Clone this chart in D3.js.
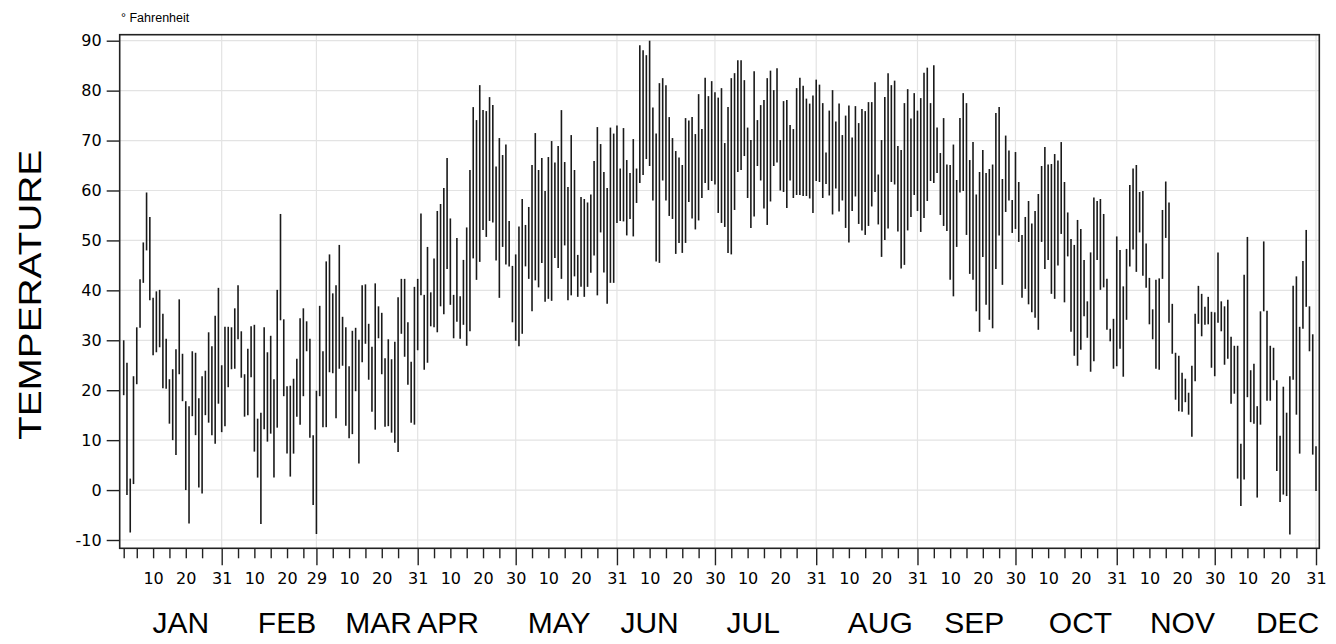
<!DOCTYPE html>
<html>
<head>
<meta charset="utf-8">
<script src="https://cdn.jsdelivr.net/npm/d3@7"></script>
<style>
  body { margin: 0; background: #fff; }
  text { fill: #000; }
</style>
</head>
<body>
<div id="chart"></div>
<script>
// daily high / low temperature (deg F), Jan 1 .. Dec 31 of a leap year
const highs = [
  30, 25.5, 2.3, 22.8, 32.6, 42.2, 49.6, 59.6, 54.7, 38.5, 39.8, 40.1, 35.3, 30.3, 22.2, 24.2, 28.2, 38.2, 27.3, 17.8, 16.8, 27.8, 27.5, 18.4, 22.8, 23.9, 31.6, 28.8, 34.9, 40.5, 25,
  32.7, 32.7, 32.6, 36.4, 41, 31.8, 23.2, 28.3, 32.8, 33.1, 14.3, 15.5, 32.6, 27.6, 30.9, 22.2, 40.1, 55.3, 34.2, 20.8, 20.9, 22.3, 26.3, 34.4, 36.4, 33.8, 30.3, 11, 19.9,
  36.9, 27.8, 45.8, 47.2, 39.4, 41, 49.1, 34.7, 32.6, 24.8, 31.9, 32.5, 30.1, 41, 41.2, 33.3, 28.7, 41.4, 36.8, 35.5, 26.4, 30.2, 26.2, 29.7, 38.6, 42.3, 42.3, 33.6, 25.7, 40.7, 42.3,
  55.4, 39.1, 48.7, 39.6, 46.4, 55.9, 57.3, 60.5, 66.5, 54.4, 39.1, 50.5, 38.8, 46.1, 52.6, 64.1, 76.7, 74.1, 81.1, 76.1, 75.9, 78.7, 77.1, 64.8, 70.5, 67.1, 69.2, 53.9, 44.9, 47.2,
  52.8, 58.3, 53.1, 56.7, 65.1, 71.5, 64.1, 66.5, 59.9, 66.7, 69.9, 65.6, 68.9, 76.1, 65.7, 60.7, 71.1, 64.1, 47.1, 58.7, 58.3, 57.6, 59.2, 65.9, 72.7, 69.3, 63.7, 60.5, 72.6, 71.4, 73,
  64.4, 72.5, 66.1, 63.5, 70.3, 64.4, 89.1, 88.1, 87.1, 90, 76.6, 71.4, 81.5, 82.5, 81.1, 74.7, 70.5, 67.9, 66.6, 65.1, 74.5, 74, 74.7, 71.3, 79.3, 72.3, 82.6, 78.9, 81.9, 79.7,
  78.6, 80.5, 69.5, 76.7, 82.5, 83.5, 86.1, 86.1, 82.1, 72.6, 70.1, 83.9, 74.1, 77.1, 78.1, 82.5, 84, 80.1, 84.5, 70.1, 77.9, 78.1, 73.1, 72.3, 80.5, 82.6, 81, 78.4, 77.4, 79, 82.2,
  81.2, 77.5, 67.6, 76, 80.1, 73.8, 77.4, 71.1, 75, 77, 70.6, 76.9, 73.5, 76.3, 75.9, 77.7, 77.7, 81.7, 63.2, 70.1, 78.7, 83.5, 81.1, 82, 68.9, 68.1, 77.5, 80.3, 74.4, 79.5, 76,
  78.5, 83.6, 84.6, 77.5, 85.1, 72.6, 67.5, 74.5, 65.2, 65.1, 69.2, 62.1, 74.5, 79.5, 77.5, 66.1, 69.7, 59.2, 63.7, 68.1, 63.5, 64.3, 65.2, 75.5, 76.7, 62.3, 71, 68, 58.1, 67.7,
  61.7, 51.1, 54.7, 57.9, 53.4, 55.9, 59.3, 64.9, 68.7, 65.2, 65.3, 67.3, 66, 69.7, 61.7, 55.6, 50.3, 49.1, 54.1, 52.3, 46.1, 37.8, 47.6, 58.6, 57.9, 58.3, 55.3, 42.3, 32.3, 34.3, 50.8,
  48.1, 40.8, 48.3, 61.1, 64.4, 65.1, 59.7, 59.9, 49.4, 42.5, 36.2, 42.1, 42.4, 56.1, 61.8, 57.6, 37.3, 27.5, 26.9, 23.5, 22.3, 19.5, 24.9, 35.3, 40.9, 39.3, 36.7, 38.7, 35.7, 35.6,
  47.6, 37.8, 36.8, 38.1, 30.7, 28.9, 28.9, 9.3, 43.1, 50.7, 24, 25.3, 16.8, 35.8, 49.8, 35.9, 28.9, 28.5, 22, 10.9, 20.7, 15.5, 22.8, 40.9, 42.8, 32.7, 45.9, 52.1, 36.8, 31.2, 8.8
];
const lows = [
  19, -1, -8.5, 1.2, 21.2, 32.5, 41.5, 48, 38, 27, 27.6, 28.6, 20.4, 20.3, 13.3, 10, 7, 23.2, 17.8, 0, -6.7, 14.8, 11, 0.5, -0.7, 15, 13.5, 11, 9.3, 17.3, 11.6,
  12.8, 20.6, 24.2, 24.3, 30.2, 22.5, 14.7, 15, 22.6, 7.7, 2.5, -6.8, 12.2, 9.7, 11.3, 2.5, 12.5, 34, 18.8, 7.3, 2.7, 7.3, 14.7, 13.1, 18.8, 27.8, 10.5, -3, -8.8,
  18.8, 12.6, 12.6, 23.6, 23.4, 14.4, 24.3, 24.9, 12.9, 10.4, 11.2, 19.8, 5.3, 25.6, 29.3, 22.1, 15.7, 12.1, 30.4, 23.2, 12.7, 12.8, 11.5, 9.5, 7.6, 31.3, 26.7, 21.1, 13.5, 13.1, 28,
  39, 24.1, 25.5, 32.8, 32.6, 31.6, 36.8, 35.2, 44.3, 37.1, 30.4, 33.7, 30.3, 33.1, 28.9, 31.8, 46.4, 42.1, 45.7, 52.1, 50.7, 53.9, 53.6, 46, 38.5, 48.7, 45.2, 44.8, 33.6, 29.9,
  28.8, 31.3, 44.8, 42.3, 35.8, 42, 40.6, 45.5, 37.7, 38.3, 37.9, 46.5, 44.5, 42.3, 49, 38, 39, 42.8, 38.7, 40.7, 38.7, 40.7, 43.5, 47, 39, 51.6, 43.6, 37.3, 41.5, 41.5, 53.5,
  53.9, 53.8, 51, 54.3, 50.8, 57.5, 61.5, 63.1, 66.3, 64.9, 58, 45.8, 45.5, 62, 58, 54.9, 54.3, 47.3, 49.5, 47.5, 49.5, 57.7, 54.4, 52.2, 54, 58.5, 61.5, 60.1, 61.9, 61.2,
  55.5, 53.5, 52.7, 47.5, 47.2, 56.1, 63.7, 64.1, 66.9, 58.5, 52.5, 54.8, 64.9, 62, 56.4, 53.1, 57.8, 64.9, 65.6, 60, 59.7, 56.5, 62, 58.5, 59.1, 59.1, 58.9, 58.9, 58.4, 55.5, 61.9,
  61.7, 58.5, 61.3, 59, 55.2, 60.4, 55.8, 58, 52.5, 49.6, 55.9, 58.8, 53.3, 52, 51.1, 52.9, 56.8, 59.7, 53.2, 46.7, 50.1, 52.4, 61.7, 61.2, 51.8, 44.4, 45.1, 52, 54.7, 59.1, 55.9,
  51.7, 54.5, 57.9, 61.9, 61.5, 63.5, 55.1, 52.9, 51.9, 42.1, 38.8, 48.7, 59.6, 59.9, 51.1, 43.3, 42.1, 35.8, 31.7, 46.7, 37.1, 34.1, 32.4, 44.3, 51, 41.1, 55.7, 58, 51.5, 52.3,
  49.7, 38.5, 40.3, 37.2, 35.6, 34.5, 32.1, 49.7, 44.3, 46.1, 39.3, 38.3, 45, 51.3, 37.6, 46.8, 31.7, 26.9, 24.9, 28.1, 34.8, 30.5, 23.7, 25.8, 46.1, 40.1, 40.6, 32.1, 29.8, 24.3, 24.8,
  28.3, 22.7, 34.1, 44.8, 48.2, 43.7, 51.6, 42.9, 40.5, 33.2, 30.2, 24.3, 24.1, 42.3, 50.5, 33.5, 27.3, 18.1, 15.8, 15.7, 17.6, 15.1, 10.7, 21.8, 33.3, 30.8, 33.1, 33.2, 24.5, 22.8,
  33.5, 31.8, 25.1, 26.3, 17.3, 19.3, 2.3, -3.2, 2.1, 18.6, 13.6, 13.3, -1.5, 13.1, 35.8, 17.9, 17.9, 22, 3.8, -2.4, -0.9, -1.2, -8.9, 22.1, 15.1, 7.3, 32.3, 36.7, 27.8, 7.1, -0.2
];
const yTicks = [-10, 0, 10, 20, 30, 40, 50, 60, 70, 80, 90];
const monthNames = ["JAN", "FEB", "MAR", "APR", "MAY", "JUN", "JUL", "AUG", "SEP", "OCT", "NOV", "DEC"];
const minorTickDays = [5, 10, 15, 20, 25];
const labelDays = [10, 20];
// where each month name sits, as a day of the year (they are not centred on the months)
const monthLabelAt = [17.5, 50, 78, 99.3, 133.3, 161, 192.7, 231.6, 260.4, 292.9, 324.1, 356.3];

const W = 1336, H = 644;
const plot = { left: 119.7, right: 1319.3, top: 34.7, bottom: 548.3 };

const year = 2024;
const start = new Date(Date.UTC(year, 0, 1));
const end = new Date(Date.UTC(year, 11, 31));
const days = d3.utcDays(start, new Date(Date.UTC(year + 1, 0, 1)));
const data = days.map((d, i) => ({ date: d, hi: highs[i], lo: lows[i] }));

const x = d3.scaleUtc().domain([start, end]).range([123.7, 1316]);
const y = d3.scaleLinear().domain([-10, 90]).range([540, 40.7]);

const monthEnds = d3.utcMonths(new Date(Date.UTC(year, 1, 1)), new Date(Date.UTC(year + 1, 0, 2)))
  .map((d) => d3.utcDay.offset(d, -1));
const months = d3.utcMonths(start, new Date(Date.UTC(year + 1, 0, 1)));
const minorTicks = [start].concat(
  months.flatMap((m) => minorTickDays.map((d) => new Date(Date.UTC(year, m.getUTCMonth(), d))))
);
const labelTicks = months
  .flatMap((m) => labelDays.map((d) => new Date(Date.UTC(year, m.getUTCMonth(), d))))
  .concat(monthEnds);

const svg = d3.select("#chart").append("svg")
  .attr("width", W)
  .attr("height", H)
  .style("font-family", "'Liberation Sans', Arial, sans-serif");

// grid
const grid = svg.append("g").attr("stroke", "#e3e3e3").attr("stroke-width", 1.2);
grid.selectAll("line.h")
  .data(yTicks)
  .join("line")
  .attr("class", "h")
  .attr("x1", plot.left).attr("x2", plot.right)
  .attr("y1", (d) => y(d)).attr("y2", (d) => y(d));
grid.selectAll("line.v")
  .data(monthEnds)
  .join("line")
  .attr("class", "v")
  .attr("x1", (d) => x(d)).attr("x2", (d) => x(d))
  .attr("y1", plot.top).attr("y2", plot.bottom);

// hi-lo bars
svg.append("g")
  .attr("stroke", "#1a1a1a")
  .attr("stroke-width", 1.6)
  .selectAll("line")
  .data(data)
  .join("line")
  .attr("x1", (d) => x(d.date)).attr("x2", (d) => x(d.date))
  .attr("y1", (d) => y(d.lo)).attr("y2", (d) => y(d.hi));

// frame
svg.append("rect")
  .attr("x", plot.left).attr("y", plot.top)
  .attr("width", plot.right - plot.left).attr("height", plot.bottom - plot.top)
  .attr("fill", "none").attr("stroke", "#222").attr("stroke-width", 1.6);

// y axis
const yAxis = svg.append("g")
  .attr("transform", `translate(${plot.left},0)`)
  .call(d3.axisLeft(y).tickValues(yTicks).tickSize(13).tickPadding(5).tickFormat((d) => d < 0 ? "-" + Math.abs(d) : d));
yAxis.select(".domain").remove();
yAxis.selectAll(".tick line").attr("stroke", "#222").attr("stroke-width", 1.4);
yAxis.selectAll("text")
  .style("font-family", "'DejaVu Sans', sans-serif")
  .style("font-size", "16px")
  .attr("fill", "#000");

// x axis ticks
const xMinor = svg.append("g")
  .attr("transform", `translate(0,${plot.bottom})`)
  .call(d3.axisBottom(x).tickValues(minorTicks).tickSize(10).tickFormat(""));
const xMajor = svg.append("g")
  .attr("transform", `translate(0,${plot.bottom})`)
  .call(d3.axisBottom(x).tickValues(monthEnds).tickSize(17).tickFormat(""));
const xLabels = svg.append("g")
  .attr("transform", `translate(0,${plot.bottom})`)
  .call(d3.axisBottom(x).tickValues(labelTicks).tickSize(0).tickPadding(24).tickFormat(d3.utcFormat("%-d")));
[xMinor, xMajor, xLabels].forEach((g) => g.select(".domain").remove());
svg.selectAll(".tick line").attr("stroke", "#222").attr("stroke-width", 1.4);
xLabels.selectAll("text")
  .style("font-family", "'DejaVu Sans', sans-serif")
  .style("font-size", "16px")
  .attr("fill", "#000");

// month names
const dayX = d3.scaleLinear().domain([0, 365]).range(x.range());
svg.append("g")
  .selectAll("text")
  .data(monthNames)
  .join("text")
  .attr("x", (d, i) => dayX(monthLabelAt[i]))
  .attr("y", 633)
  .attr("text-anchor", "middle")
  .style("font-size", "30px")
  .text((d) => d);

// axis title and unit
svg.append("text")
  .attr("transform", `translate(41,295) rotate(-90)`)
  .attr("text-anchor", "middle")
  .attr("textLength", 290)
  .attr("lengthAdjust", "spacingAndGlyphs")
  .style("font-size", "31px")
  .text("TEMPERATURE");

svg.append("text")
  .attr("x", 121)
  .attr("y", 22)
  .style("font-size", "12.5px")
  .text("° Fahrenheit");
</script>
</body>
</html>
